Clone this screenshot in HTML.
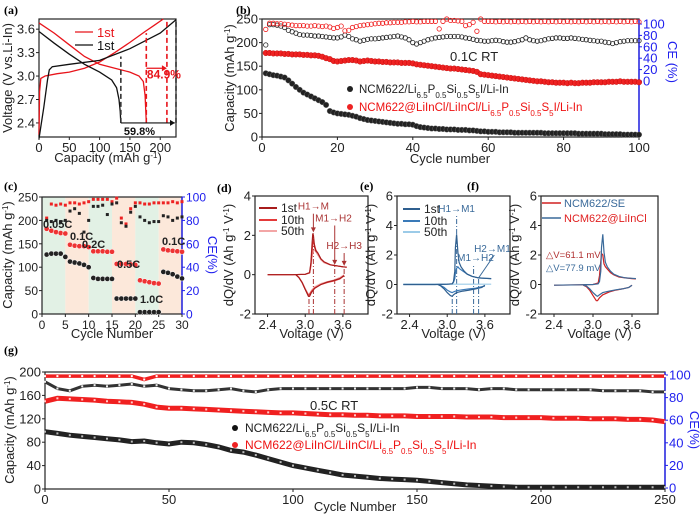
<!DOCTYPE html>
<html><head><meta charset="utf-8"><style>
html,body{margin:0;padding:0;background:#fff}
svg{display:block;font-family:"Liberation Sans",Arial,sans-serif}
.pl{font-family:"Liberation Serif",serif;font-weight:bold;font-size:12px}
</style></head><body>
<svg id="fig" width="700" height="516" viewBox="0 0 700 516" xmlns="http://www.w3.org/2000/svg">
<text class="pl" x="4" y="14">(a)</text>
<text class="pl" x="236" y="14">(b)</text>
<text class="pl" x="4" y="190">(c)</text>
<text class="pl" x="217" y="192">(d)</text>
<text class="pl" x="360" y="190">(e)</text>
<text class="pl" x="467" y="190">(f)</text>
<text class="pl" x="4" y="354">(g)</text>
</svg>
<script>
// ---------- DATA ----------
// panel a
const aRedChgCap=[0,1,3,10,30,50,75,100,125,150,175,190,205];
const aRedChgV=[2.25,2.8,2.97,3.0,3.03,3.05,3.1,3.18,3.3,3.43,3.57,3.65,3.73];
const aRedDisCap=[0,25,50,75,100,125,150,165,172,175,177];
const aRedDisV=[3.68,3.55,3.4,3.25,3.15,3.1,3.05,3.0,2.93,2.75,2.4];
const aBlkChgCap=[0,8,14,17,22,50,100,150,200,226];
const aBlkChgV=[2.2,2.6,2.95,3.08,3.12,3.15,3.2,3.35,3.55,3.72];
const aBlkDisCap=[0,25,50,75,100,120,128,132,134,135];
const aBlkDisV=[3.57,3.42,3.28,3.15,3.05,2.95,2.85,2.7,2.55,2.4];
// panel b
const bBlkDis=[135,133,131,130,128,126,120,113,106,100,94,90,86,82,78,74,68,55,52,50,49,48,47,45,43,40,38,36,35,34,33,32,31,30,29,28,28,27,27,26,23,21,20,19,18,18,17,17,16,16,16,15,15,15,14,14,13,12,12,11,11,11,10,10,10,10,9,9,9,9,9,9,9,9,8,8,8,8,8,8,8,8,8,7,7,7,7,7,7,7,6,6,6,6,6,5,5,5,5,5];
const bRedDis=[178,178,177,177,177,176,176,175,175,175,174,174,173,173,172,170,167,165,161,160,161,162,163,163,162,160,161,162,161,160,160,159,159,158,158,158,157,157,157,156,154,153,152,151,150,149,148,147,146,145,145,144,143,142,141,140,138,133,132,131,130,129,128,127,126,125,124,123,122,121,120,119,118,118,117,116,116,115,115,115,114,115,114,114,115,115,115,116,116,116,116,117,117,117,118,117,117,117,117,116];
const bBlkChg=[195,238,238,237,235,232,226,223,220,217,216,216,215,214,214,213,212,211,210,210,212,216,213,208,206,203,205,207,208,208,209,210,211,212,213,214,212,210,206,200,197,200,203,206,208,210,211,212,213,213,213,213,212,210,209,207,205,204,203,203,204,205,204,202,201,201,202,204,206,210,206,204,203,204,206,208,209,210,210,209,209,210,209,208,207,206,205,204,203,203,201,200,198,200,202,203,204,204,204,204];
const bRedChg=[228,241,241,240,240,239,238,237,236,236,236,235,235,236,235,234,235,233,230,232,235,225,226,232,234,236,237,238,239,240,241,241,242,242,243,243,243,244,244,245,244,244,245,245,245,245,229,245,250,247,247,246,245,236,238,243,224,250,245,245,245,244,245,244,245,244,245,244,245,244,245,244,245,244,245,244,245,244,245,244,245,244,245,244,245,244,245,244,245,244,245,244,245,244,245,244,245,244,245,244];
// panel c
const cBlkDis=[127,129,129,129,122,112,110,108,105,100,77,75,75,75,75,33,33,33,33,33,4,4,4,4,4,90,88,85,80,76];
const cRedDis=[182,178,175,173,172,148,146,145,145,143,134,134,134,133,133,107,107,107,106,105,72,70,68,66,65,138,136,135,134,133];
const cRedCE=[82,94,93,94,93,95,95,94,95,96,98,98,98,98,96,99,82,77,90,95,95,94,94,95,95,95,95,96,95,96];
const cBlkCE=[80,79,80,79,80,88,90,86,70,80,92,92,93,85,94,95,78,75,87,92,83,80,78,79,79,84,83,80,82,83];
const cRates=["0.05C","0.1C","0.2C","0.5C","1.0C","0.1C"];
// panel d
const dVan=[2.4,2.8,3.0,3.07,3.09,3.11,3.12,3.13,3.15,3.17,3.2,3.25,3.3,3.4,3.5,3.6,3.66];
const d1an=[0,0,0.02,0.1,0.6,1.6,2.1,2.0,1.4,1.2,1.1,0.8,0.65,0.5,0.45,0.4,0.38];
const d10an=[0,0,0.02,0.1,0.5,1.2,1.6,1.7,1.5,1.25,1.1,0.8,0.65,0.5,0.45,0.4,0.38];
const d50an=[0,0,0.02,0.08,0.4,0.9,1.1,1.2,1.25,1.15,1.0,0.75,0.6,0.5,0.45,0.4,0.38];
const dVca=[3.62,3.55,3.45,3.35,3.25,3.15,3.1,3.07,3.05,3.0,2.95,2.9,2.85];
const d1ca=[-0.05,-0.2,-0.3,-0.38,-0.5,-0.7,-0.9,-1.1,-1.1,-0.75,-0.4,-0.15,0];
const d10ca=[-0.05,-0.22,-0.32,-0.4,-0.5,-0.68,-0.85,-1.0,-1.05,-0.75,-0.4,-0.15,0];
const d50ca=[0,-0.15,-0.28,-0.36,-0.45,-0.62,-0.8,-0.95,-1.0,-0.7,-0.38,-0.12,0];
// panel e
const eVan=[2.3,2.8,3.0,3.08,3.1,3.12,3.13,3.15,3.17,3.19,3.22,3.27,3.32,3.4,3.5,3.6,3.7];
const e1an=[0,0,0.02,0.05,0.2,0.9,2.5,3.4,2.2,1.5,1.2,0.9,0.7,0.55,0.45,0.42,0.4];
const e10an=[0,0,0.02,0.05,0.15,0.4,0.8,1.1,1.2,1.1,1.0,0.85,0.7,0.55,0.45,0.42,0.4];
const e50an=[0.02,0.02,0.02,0.02,0.02,0.02,0.02,0.02,0.02,0.02,0.02,0.02,0.02,0.02,0.02,0.02,0.02];
const eVca=[3.6,3.55,3.45,3.35,3.25,3.15,3.1,3.08,3.05,3.0,2.95,2.9,2.85];
const e1ca=[-0.05,-0.2,-0.3,-0.38,-0.45,-0.55,-0.7,-0.8,-0.75,-0.55,-0.3,-0.1,0];
const e10ca=[-0.1,-0.15,-0.25,-0.3,-0.35,-0.42,-0.5,-0.55,-0.5,-0.38,-0.2,-0.08,0];
// panel f
const fVan=[2.4,2.8,3.0,3.08,3.1,3.12,3.13,3.15,3.17,3.19,3.22,3.27,3.32,3.4,3.5,3.6,3.66];
const fRedAn=[-0.05,-0.02,0,0.1,0.6,1.6,2.1,2.0,1.4,1.2,1.05,0.8,0.65,0.5,0.45,0.4,0.38];
const fBlueAn=[-0.05,-0.02,0,0.05,0.2,0.9,2.5,3.4,2.2,1.5,1.2,0.9,0.7,0.55,0.45,0.42,0.4];
const fVca=[3.6,3.55,3.45,3.35,3.25,3.15,3.1,3.07,3.05,3.0,2.95,2.9,2.85];
const fRedCa=[-0.05,-0.2,-0.3,-0.38,-0.5,-0.7,-0.9,-1.1,-1.1,-0.75,-0.4,-0.15,-0.05];
const fBlueCa=[-0.05,-0.2,-0.3,-0.36,-0.45,-0.55,-0.7,-0.8,-0.75,-0.55,-0.3,-0.1,-0.05];
// panel g (every 5 cycles, 0..250)
const gBlkDis=[98,95,92,90,88,86,84,81,82,79,77,80,79,76,72,66,63,58,52,46,40,36,32,28,24,22,20,18,17,16,15,13,11,9,7,6,5,4,3,3,3,3,3,3,3,3,3,3,3,3,3];
const gRedDis=[150,155,154,153,152,150,149,148,145,140,138,138,137,136,135,134,133,132,131,130,130,129,128,127,127,126,126,125,125,125,124,124,124,124,123,123,123,122,122,122,122,121,121,121,120,120,120,119,119,118,115];
const gBlkCE=[94,88,86,90,91,90,91,92,90,91,88,87,86,86,87,88,86,85,87,88,88,88,88,88,88,88,88,88,88,88,89,89,88,88,88,87,88,88,87,87,87,87,87,87,87,86,86,86,86,85,85];
const gRedCE=[99,99,99,99,99,99,99,99,96,99,99,99,99,99,99,99,99,99,99,99,99,99,99,99,99,99,99,99,99,99,99,99,99,99,99,99,99,99,99,99,99,99,99,99,99,99,99,99,99,99,99];

// ---------- HELPERS ----------
const svg=document.getElementById('fig');
const NS='http://www.w3.org/2000/svg';
function mk(tag,attrs,parent){const e=document.createElementNS(NS,tag);for(const k in attrs)e.setAttribute(k,attrs[k]);(parent||svg).appendChild(e);return e;}
function lin(d0,d1,p0,p1){return v=>p0+(v-d0)/(d1-d0)*(p1-p0);}
function txt(x,y,s,opts){const t=mk('text',Object.assign({x:x,y:y,'font-size':12,fill:'#222'},opts||{}));t.textContent=s;return t;}

function frame(P,name){
  const r=mk('rect',{x:P.px0,y:P.py1,width:P.px1-P.px0,height:P.py0-P.py1,fill:'none',stroke:'#222','stroke-width':1.2});
  
  
  P.xt.forEach(v=>{const x=P.sx(v);
    const l=mk('line',{x1:x,x2:x,y1:P.py0,y2:P.py0+3,stroke:'#222'});
    
    
    const t=txt(x,P.py0+15,P.xf(v),{'text-anchor':'middle','font-size':P.fs||13});
    
    });
  P.yt.forEach(v=>{const y=P.sy(v);
    const l=mk('line',{x1:P.px0-3,x2:P.px0,y1:y,y2:y,stroke:'#222'});
    
    
    const t=txt(P.px0-4,y+4.5,P.yf(v),{'text-anchor':'end','font-size':P.fs||13});
    
    });
  if(P.ct){P.ct.forEach(v=>{const y=P.sc(v);
    const l=mk('line',{x1:P.px1,x2:P.px1+3,y1:y,y2:y,stroke:'#2020ee'});
    
    
    const t=txt(P.px1+4,y+4.5,String(v),{'font-size':P.fs||13,fill:'#2020ee'});
    
    });
    const ax=mk('line',{x1:P.px1,x2:P.px1,y1:P.py1,y2:P.py0,stroke:'#2020ee','stroke-width':1.4});
    
    }
}
function ylab(x,y,s,name,col){const t=txt(x,y,'',{'text-anchor':'middle','font-size':13,fill:col||'#222',transform:'rotate(-90 '+x+' '+y+')'});t.innerHTML=s;
  
  return t;}
function xlab(x,y,s,name){const t=txt(x,y,'',{'text-anchor':'middle','font-size':13});t.innerHTML=s;
  
  return t;}
function path(xs,ys,sx,sy,attrs,name){let d='';xs.forEach((v,i)=>{d+=(i?'L':'M')+sx(v).toFixed(1)+','+sy(ys[i]).toFixed(1);});
  const p=mk('path',Object.assign({d:d,fill:'none'},attrs));
  
  return p;}
const SUP='(mAh g<tspan baseline-shift="super" font-size="8">-1</tspan>)';
const DQ='dQ/dV (Ah g<tspan baseline-shift="super" font-size="8">-1</tspan> V<tspan baseline-shift="super" font-size="8">-1</tspan>)';

// ---------- PANEL A ----------
(function(){
const P={px0:39,px1:176,py0:137,py1:19};
P.sx=lin(0,226,39,176);P.sy=lin(2.22,3.73,137,19);
P.xt=[0,50,100,150,200];P.yt=[2.4,2.7,3.0,3.3,3.6];P.xf=v=>String(v);P.yf=v=>v.toFixed(1);
frame(P,'panel-a');
ylab(12,78,'Voltage (V vs.Li-In)','panel-a-y-axis-title');
xlab(108,162,'Capacity '+SUP,'panel-a-x-axis-title');
path(aRedChgCap,aRedChgV,P.sx,P.sy,{stroke:'#e8141b','stroke-width':1.3},'a-red-charge-curve');
path(aRedDisCap,aRedDisV,P.sx,P.sy,{stroke:'#e8141b','stroke-width':1.3},'a-red-discharge-curve');
path(aBlkChgCap,aBlkChgV,P.sx,P.sy,{stroke:'#111','stroke-width':1.3},'a-black-charge-curve');
path(aBlkDisCap,aBlkDisV,P.sx,P.sy,{stroke:'#111','stroke-width':1.3},'a-black-discharge-curve');
const dl=[[135,2.4,3.25,'#333'],[226,2.4,3.73,'#333'],[177,2.4,3.55,'#e8141b'],[211,2.4,3.7,'#e8141b']];
dl.forEach(q=>{const l=mk('line',{x1:P.sx(q[0]),x2:P.sx(q[0]),y1:P.sy(q[1]),y2:P.sy(q[2]),stroke:q[3],'stroke-width':1.6,'stroke-dasharray':'5,3'});
  
  });
const ar=mk('line',{x1:P.sx(135),x2:P.sx(224),y1:P.sy(2.4),y2:P.sy(2.4),stroke:'#111','stroke-width':1.2});


const ah=mk('path',{d:'M'+(P.sx(226)-1)+','+P.sy(2.4)+'l-5,-3v6z',fill:'#111'});


const ar2=mk('line',{x1:P.sx(177),x2:P.sx(209),y1:P.sy(3.1),y2:P.sy(3.1),stroke:'#e8141b','stroke-width':1.2});


const ah2=mk('path',{d:'M'+P.sx(211)+','+P.sy(3.1)+'l-5,-3v6z',fill:'#e8141b'});


let t=txt(P.sx(178),P.sy(2.97),'84.9%',{fill:'#e8141b','font-size':12,'font-weight':'bold'});


t=txt(P.sx(140),P.sy(2.4)+12,'59.8%',{fill:'#111','font-size':11,'font-weight':'bold'});


[['#e8141b',32,'1st'],['#111',45,'1st']].forEach(q=>{
  const l=mk('line',{x1:75,x2:93,y1:q[1],y2:q[1],stroke:q[0],'stroke-width':1.3});
  
  
  const tt=txt(97,q[1]+5,q[2],{fill:q[0],'font-size':13});
  
  });
})();

// ---------- PANEL B ----------
(function(){
const P={px0:262,px1:639,py0:137,py1:19};
P.sx=lin(0,100,262,639);P.sy=lin(0,250,137,19);P.sc=lin(0,100,81,24);
P.xt=[0,20,40,60,80,100];P.yt=[0,50,100,150,200,250];P.ct=[0,20,40,60,80,100];P.xf=v=>String(v);P.yf=v=>String(v);
frame(P,'panel-b');
ylab(234,78,'Capacity '+SUP,'panel-b-y-axis-title');
xlab(450,163,'Cycle number','panel-b-x-axis-title');
ylab(668,62,'CE (%)','panel-b-ce-axis-title','#2020ee').setAttribute('transform','rotate(90 668 62)');
bBlkChg.forEach((v,i)=>{const c=mk('circle',{cx:P.sx(i+1),cy:P.sy(v),r:2.2,fill:'none',stroke:'#222','stroke-width':0.8});
  
  });
bRedChg.forEach((v,i)=>{const c=mk('circle',{cx:P.sx(i+1),cy:P.sy(v),r:2.2,fill:'none',stroke:'#f02020','stroke-width':0.8});
  
  });
bRedDis.forEach((v,i)=>{const c=mk('circle',{cx:P.sx(i+1),cy:P.sy(v),r:2.8,fill:'#ee2222',stroke:'#b00','stroke-width':0.4});
  
  });
bBlkDis.forEach((v,i)=>{const c=mk('circle',{cx:P.sx(i+1),cy:P.sy(v),r:2.8,fill:'#222',stroke:'#777','stroke-width':0.4});
  
  });
let t=txt(450,61,'0.1C  RT',{'font-size':13});


let c=mk('circle',{cx:350,cy:89,r:3,fill:'#222'});


t=txt(359,93,'',{'font-size':11.5});
t.innerHTML='NCM622/Li<tspan baseline-shift="sub" font-size="8">6.5</tspan>P<tspan baseline-shift="sub" font-size="8">0.5</tspan>Si<tspan baseline-shift="sub" font-size="8">0.5</tspan>S<tspan baseline-shift="sub" font-size="8">5</tspan>I/Li-In';


c=mk('circle',{cx:350,cy:107,r:3,fill:'#ee2222'});


t=txt(359,111,'',{'font-size':11.5,fill:'#ee1111'});
t.innerHTML='NCM622@LiInCl/LiInCl/Li<tspan baseline-shift="sub" font-size="8">6.5</tspan>P<tspan baseline-shift="sub" font-size="8">0.5</tspan>Si<tspan baseline-shift="sub" font-size="8">0.5</tspan>S<tspan baseline-shift="sub" font-size="8">5</tspan>I/Li-In';


})();

// ---------- PANEL C ----------
(function(){
const P={px0:42,px1:182,py0:314,py1:197,fs:12};
P.sx=lin(0,30,42,182);P.sy=lin(0,250,314,197);P.sc=lin(0,100,314,197);
P.xt=[0,5,10,15,20,25,30];P.yt=[0,50,100,150,200,250];P.ct=[0,20,40,60,80,100];P.xf=v=>String(v);P.yf=v=>String(v);
for(let k=0;k<6;k++){const r=mk('rect',{x:P.sx(k*5),y:197,width:P.sx(5)-P.sx(0),height:117,fill:k%2?'#fce8da':'#e2f1e5'});
  
  }
frame(P,'panel-c');
ylab(12,255,'Capacity '+SUP,'panel-c-y-axis-title');
xlab(112,338,'Cycle Number','panel-c-x-axis-title');
ylab(208,255,'CE(%)','panel-c-ce-axis-title','#2020ee').setAttribute('transform','rotate(90 208 255)');
cRedCE.forEach((v,i)=>{const r=mk('rect',{x:P.sx(i+1)-1.5,y:P.sc(v)-1.5,width:3,height:3,fill:'#ee2222'});
  
  });
cBlkCE.forEach((v,i)=>{const r=mk('rect',{x:P.sx(i+1)-1.5,y:P.sc(v)-1.5,width:3,height:3,fill:'#222'});
  
  });
cRedDis.forEach((v,i)=>{const c=mk('circle',{cx:P.sx(i+1),cy:P.sy(v),r:2.6,fill:'#ee3333',stroke:'#fff','stroke-width':0.5});
  
  });
cBlkDis.forEach((v,i)=>{const c=mk('circle',{cx:P.sx(i+1),cy:P.sy(v),r:2.6,fill:'#222',stroke:'#fff','stroke-width':0.5});
  
  });
const pos=[[43,228],[70,240],[82,248],[117,268],[140,303],[162,245]];
cRates.forEach((s,i)=>{const t=txt(pos[i][0],pos[i][1],s,{'font-size':11,'font-weight':'bold'});
  
  });
})();

// ---------- PANELS D/E/F ----------
function dqPanel(name,px0,px1,ymax,yl){
  const P={px0:px0,px1:px1,py0:314,py1:196};
  P.sx=lin(2.2,4.0,px0,px1);P.sy=lin(-2,ymax,314,196);
  P.xt=[2.4,3.0,3.6];P.yt=ymax==4?[-2,0,2,4]:[-2,0,2,4,6];P.xf=v=>v.toFixed(1);P.yf=v=>String(v);
  frame(P,name);
  ylab(yl,255,DQ,name+'-y-axis-title');
  xlab((px0+px1)/2,338,'Voltage (V)',name+'-x-axis-title');
  return P;
}
(function(){
const P=dqPanel('panel-d',255,368,4,233);
[[3.06,-2,-1.1],[3.13,-2,2.1],[3.47,-2,0.45],[3.62,-2,0.4]].forEach(q=>{
  const l=mk('line',{x1:P.sx(q[0]),x2:P.sx(q[0]),y1:P.sy(q[1]),y2:P.sy(q[2]),stroke:'#a33','stroke-width':1,'stroke-dasharray':'5,2,1,2'});
  
  });
path(dVan,d50an,P.sx,P.sy,{stroke:'#f3a6a6','stroke-width':1.2},'d-50th-anodic');
path(dVca,d50ca,P.sx,P.sy,{stroke:'#f3a6a6','stroke-width':1.2},'d-50th-cathodic');
path(dVan,d10an,P.sx,P.sy,{stroke:'#e43a3a','stroke-width':1.2},'d-10th-anodic');
path(dVca,d10ca,P.sx,P.sy,{stroke:'#e43a3a','stroke-width':1.2},'d-10th-cathodic');
path(dVan,d1an,P.sx,P.sy,{stroke:'#a81c1c','stroke-width':1.2},'d-1st-anodic');
path(dVca,d1ca,P.sx,P.sy,{stroke:'#a81c1c','stroke-width':1.2},'d-1st-cathodic');
[[3.13,3.1,2.15,'H1→M',3.13,3.2],[3.47,2.5,0.5,'M1→H2',3.45,2.6],[3.62,1.1,0.45,'H2→H3',3.62,1.2]].forEach(q=>{
  const l=mk('line',{x1:P.sx(q[0]),x2:P.sx(q[0]),y1:P.sy(q[1]),y2:P.sy(q[2])-3,stroke:'#a33','stroke-width':1});
  
  
  const h=mk('path',{d:'M'+P.sx(q[0])+','+P.sy(q[2])+'l-2.5,-5h5z',fill:'#a33'});
  
  
  const t=txt(P.sx(q[4]),P.sy(q[5])-2,q[3],{'text-anchor':'middle','font-size':10,fill:'#a33'});
  
  });
[['#a81c1c',208,'1st'],['#e43a3a',220,'10th'],['#f3a6a6',231,'50th']].forEach(q=>{
  const l=mk('line',{x1:259,x2:277,y1:q[1],y2:q[1],stroke:q[0],'stroke-width':2});
  
  
  const t=txt(281,q[1]+4,q[2],{'font-size':12});
  
  });
})();
(function(){
const P=dqPanel('panel-e',397,510,6,375);
[[3.08,-2,-0.8],[3.15,-2,4.7],[3.42,-2,1.3],[3.5,-2,0.45]].forEach(q=>{
  const l=mk('line',{x1:P.sx(q[0]),x2:P.sx(q[0]),y1:P.sy(q[1]),y2:P.sy(q[2]),stroke:'#3a6a9a','stroke-width':1,'stroke-dasharray':'5,2,1,2'});
  
  });
path(eVan,e50an,P.sx,P.sy,{stroke:'#9ccbe8','stroke-width':1.2},'e-50th-anodic');
path(eVan,e10an,P.sx,P.sy,{stroke:'#3a7ab8','stroke-width':1.2},'e-10th-anodic');
path(eVca,e10ca,P.sx,P.sy,{stroke:'#3a7ab8','stroke-width':1.2},'e-10th-cathodic');
path(eVan,e1an,P.sx,P.sy,{stroke:'#2f5f8f','stroke-width':1.2},'e-1st-anodic');
path(eVca,e1ca,P.sx,P.sy,{stroke:'#2f5f8f','stroke-width':1.2},'e-1st-cathodic');
const sl=mk('line',{x1:P.sx(3.5),y1:P.sy(0.45),x2:P.sx(3.75),y2:P.sy(2.0),stroke:'#3a6a9a','stroke-width':1});


[['H1→M1',3.15,4.9],['M1→H2',3.45,1.6],['H2→M1',3.72,2.2]].forEach(q=>{
  const t=txt(P.sx(q[1]),P.sy(q[2]),q[0],{'text-anchor':'middle','font-size':10,fill:'#3a6a9a'});
  
  });
[['#2f5f8f',209,'1st'],['#3a7ab8',221,'10th'],['#9ccbe8',232,'50th']].forEach(q=>{
  const l=mk('line',{x1:403,x2:420,y1:q[1],y2:q[1],stroke:q[0],'stroke-width':2});
  
  
  const t=txt(424,q[1]+4,q[2],{'font-size':12});
  
  });
})();
(function(){
const P=dqPanel('panel-f',541,658,6,519);
path(fVan,fRedAn,P.sx,P.sy,{stroke:'#d02020','stroke-width':1.2},'f-red-anodic');
path(fVca,fRedCa,P.sx,P.sy,{stroke:'#d02020','stroke-width':1.2},'f-red-cathodic');
path(fVan,fBlueAn,P.sx,P.sy,{stroke:'#3a6a9a','stroke-width':1.2},'f-blue-anodic');
path(fVca,fBlueCa,P.sx,P.sy,{stroke:'#3a6a9a','stroke-width':1.2},'f-blue-cathodic');
[['#d02020','#3a6a9a',203,'NCM622/SE'],['#3a6a9a','#e02020',218,'NCM622@LiInCl']].forEach(q=>{
  const l=mk('line',{x1:542,x2:561,y1:q[2],y2:q[2],stroke:q[0],'stroke-width':1.5});
  
  
  const t=txt(564,q[2]+4,q[3],{'font-size':11,fill:q[1]});
  
  });
let t=txt(546,258,'△V=61.1 mV',{'font-size':9.5,fill:'#b03030'});


t=txt(546,271,'△V=77.9 mV',{'font-size':9.5,fill:'#3a6a9a'});


})();

// ---------- PANEL G ----------
(function(){
const P={px0:45,px1:665,py0:489,py1:372};
P.sx=lin(0,250,45,665);P.sy=lin(0,200,489,372);P.sc=lin(0,100,488,375);
P.xt=[0,50,100,150,200,250];P.yt=[0,40,80,120,160,200];P.ct=[0,20,40,60,80,100];P.xf=v=>String(v);P.yf=v=>String(v);
frame(P,'panel-g');
ylab(14,430,'Capacity '+SUP,'panel-g-y-axis-title');
xlab(355,511,'Cycle Number','panel-g-x-axis-title');
ylab(690,430,'CE(%)','panel-g-ce-axis-title','#2020ee').setAttribute('transform','rotate(90 690 430)');
const cyc=gBlkDis.map((v,i)=>i*5);
path(cyc,gRedCE,P.sx,P.sc,{stroke:'#f02020','stroke-width':3.5},'g-red-ce-line');
path(cyc,gBlkCE,P.sx,P.sc,{stroke:'#333','stroke-width':3},'g-black-ce-line');
path(cyc,gRedDis,P.sx,P.sy,{stroke:'#f02020','stroke-width':5},'g-red-discharge-line');
path(cyc,gBlkDis,P.sx,P.sy,{stroke:'#222','stroke-width':5},'g-black-discharge-line');
[[gRedCE,P.sc,'#fff','g-red-ce-point'],[gBlkCE,P.sc,'#eee','g-black-ce-point'],[gRedDis,P.sy,'#fcc','g-red-discharge-point'],[gBlkDis,P.sy,'#bbb','g-black-discharge-point']].forEach(S=>{
  S[0].forEach((v,i)=>{const r=mk('rect',{x:P.sx(i*5)-1,y:S[1](v)-1,width:2,height:2,fill:S[2]});
    
    });});
let t=txt(310,410,'0.5C  RT',{'font-size':13});


let c=mk('circle',{cx:235,cy:428,r:3,fill:'#111'});


t=txt(245,432,'',{'font-size':12});
t.innerHTML='NCM622/Li<tspan baseline-shift="sub" font-size="8">6.5</tspan>P<tspan baseline-shift="sub" font-size="8">0.5</tspan>Si<tspan baseline-shift="sub" font-size="8">0.5</tspan>S<tspan baseline-shift="sub" font-size="8">5</tspan>I/Li-In';


c=mk('circle',{cx:235,cy:445,r:3,fill:'#ee2222'});


t=txt(245,449,'',{'font-size':12,fill:'#ee1111'});
t.innerHTML='NCM622@LiInCl/LiInCl/Li<tspan baseline-shift="sub" font-size="8">6.5</tspan>P<tspan baseline-shift="sub" font-size="8">0.5</tspan>Si<tspan baseline-shift="sub" font-size="8">0.5</tspan>S<tspan baseline-shift="sub" font-size="8">5</tspan>I/Li-In';


})();
</script>
</body></html>
